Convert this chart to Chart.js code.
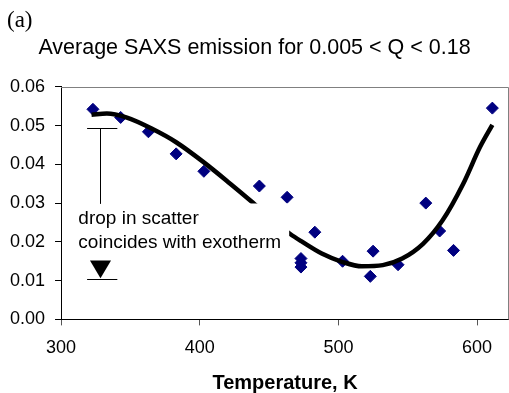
<!DOCTYPE html>
<html>
<head>
<meta charset="utf-8">
<script src="https://cdn.jsdelivr.net/npm/chart.js@4/dist/chart.umd.min.js"></script>
<style>
  html, body { margin: 0; padding: 0; background: #fff; }
  #wrap { width: 509px; height: 393px; }
</style>
</head>
<body>
<div id="wrap"><canvas id="saxsChart"></canvas></div>
<script>
// Measured points
const tempK = [323, 343, 363, 383, 403, 443, 463, 473, 473, 473, 483, 503, 523, 525, 543, 563, 573, 583, 611];
const saxs = [0.0542, 0.0521, 0.0484, 0.0427, 0.0382, 0.0344, 0.0315, 0.0157, 0.0146, 0.0135,
              0.0225, 0.0150, 0.0111, 0.0176, 0.0141, 0.0300, 0.0228, 0.0178, 0.0545];

// Trend curve
const fitTempK = [322, 333, 347, 366, 383, 403, 422, 438, 452, 465, 474, 488, 503, 517, 532, 546, 561, 575, 590, 602, 611];
const fitSaxs = [0.0528, 0.0531, 0.0521, 0.0491, 0.0457, 0.0405, 0.0350, 0.0302, 0.0258, 0.0221, 0.0200,
                 0.0170, 0.0148, 0.0137, 0.0140, 0.0157, 0.0195, 0.0255, 0.0350, 0.0444, 0.0502];

const xTicks = [300, 400, 500, 600];
const yTicks = [0, 0.01, 0.02, 0.03, 0.04, 0.05, 0.06];

const titleText = 'Average SAXS emission for 0.005 < Q < 0.18';
const panelLabel = '(a)';
const noteLines = ['drop in scatter', 'coincides with exotherm'];

const FONT = '"Liberation Sans", Arial, sans-serif';

// Annotation (text box with bracket and arrow), placed in data units
const annotationPlugin = {
    id: 'annotation',
    afterDatasetsDraw(chart) {
        const { ctx, chartArea, scales: { x, y } } = chart;
        ctx.save();

        // white text box hides the trend line behind it
        const bx0 = x.getPixelForValue(310), bx1 = x.getPixelForValue(464.5);
        const by0 = y.getPixelForValue(0.0299), by1 = y.getPixelForValue(0.0173);
        ctx.fillStyle = '#fff';
        ctx.fillRect(bx0, by0, bx1 - bx0, by1 - by0);

        ctx.fillStyle = '#000';
        ctx.font = '19px ' + FONT;
        ctx.textAlign = 'left';
        ctx.textBaseline = 'alphabetic';
        ctx.fillText(noteLines[0], x.getPixelForValue(312.5), y.getPixelForValue(0.0247));
        ctx.fillText(noteLines[1], x.getPixelForValue(312.5), y.getPixelForValue(0.0185));

        // bracket: cap, stem, arrow, base
        const cx = Math.round(x.getPixelForValue(328.3)) + 0.5;
        const capL = x.getPixelForValue(318.8), capR = x.getPixelForValue(340.6);
        ctx.strokeStyle = '#000';
        ctx.lineWidth = 1;
        ctx.beginPath();
        const yCap = Math.round(y.getPixelForValue(0.0493)) + 0.5;
        ctx.moveTo(capL, yCap); ctx.lineTo(capR, yCap);
        ctx.moveTo(cx, yCap); ctx.lineTo(cx, y.getPixelForValue(0.0298));
        const yBase = Math.round(y.getPixelForValue(0.0103)) + 0.5;
        ctx.moveTo(capL, yBase); ctx.lineTo(capR, yBase);
        ctx.stroke();

        const triTop = y.getPixelForValue(0.0152), triTip = y.getPixelForValue(0.0106);
        const half = x.getPixelForValue(328.3 + 7.6) - x.getPixelForValue(328.3);
        ctx.beginPath();
        ctx.moveTo(cx - half, triTop);
        ctx.lineTo(cx + half, triTop);
        ctx.lineTo(cx, triTip);
        ctx.closePath();
        ctx.fill();

        // plot area frame (top and right)
        ctx.strokeStyle = '#808080';
        ctx.beginPath();
        ctx.moveTo(chartArea.left, Math.round(chartArea.top) + 0.5);
        ctx.lineTo(chartArea.right - 0.5, Math.round(chartArea.top) + 0.5);
        ctx.lineTo(chartArea.right - 0.5, chartArea.bottom);
        ctx.stroke();

        ctx.restore();
    },
    afterDraw(chart) {
        const ctx = chart.ctx;
        ctx.save();
        ctx.fillStyle = '#000';
        ctx.font = '23px "Liberation Serif", "Times New Roman", serif';
        ctx.textAlign = 'left';
        ctx.textBaseline = 'alphabetic';
        ctx.fillText(panelLabel, 7, 27);
        ctx.restore();
    }
};

const ctx = document.getElementById('saxsChart');

new Chart(ctx, {
    type: 'scatter',
    data: {
        datasets: [
            {
                label: 'Trend',
                data: fitTempK.map((t, i) => ({ x: t, y: fitSaxs[i] })),
                showLine: true,
                borderColor: '#000',
                borderWidth: 4.5,
                pointRadius: 0,
                cubicInterpolationMode: 'monotone',
                fill: false,
                order: 0
            },
            {
                label: 'SAXS',
                data: tempK.map((t, i) => ({ x: t, y: saxs[i] })),
                pointStyle: 'rectRot',
                pointRadius: 6,
                backgroundColor: '#000080',
                borderColor: '#000080',
                borderWidth: 1,
                order: 1
            }
        ]
    },
    options: {
        responsive: true,
        maintainAspectRatio: false,
        animation: false,
        devicePixelRatio: 1,
        layout: {
            autoPadding: false,
            padding: { left: 0, right: 0, top: 0, bottom: 0 }
        },
        plugins: {
            legend: { display: false },
            tooltip: { enabled: false },
            title: {
                display: true,
                text: titleText,
                color: '#000',
                font: { family: FONT, size: 21.5, weight: 'normal' },
                padding: { top: 35, bottom: 26 }
            }
        },
        scales: {
            x: {
                type: 'linear',
                min: 300,
                max: 623,
                afterBuildTicks: (scale) => {
                    scale.ticks = xTicks.map(v => ({ value: v }));
                },
                ticks: {
                    color: '#000',
                    font: { family: FONT, size: 18 },
                    padding: 12,
                    maxRotation: 0
                },
                grid: {
                    drawOnChartArea: false,
                    drawTicks: true,
                    tickLength: 6,
                    color: '#555'
                },
                border: { display: true, color: '#000', width: 1 },
                title: {
                    display: true,
                    text: 'Temperature, K',
                    color: '#000',
                    font: { family: FONT, size: 20, weight: 'bold' },
                    padding: { top: 0, bottom: -2 }
                }
            },
            y: {
                type: 'linear',
                min: 0,
                max: 0.06,
                afterBuildTicks: (scale) => {
                    scale.ticks = yTicks.map(v => ({ value: v }));
                },
                ticks: {
                    color: '#000',
                    font: { family: FONT, size: 18 },
                    padding: 10,
                    callback: (v) => Number(v).toFixed(2)
                },
                grid: {
                    drawOnChartArea: false,
                    drawTicks: true,
                    tickLength: 6,
                    color: '#000'
                },
                border: { display: true, color: '#000', width: 1 }
            }
        }
    },
    plugins: [annotationPlugin]
});
</script>
</body>
</html>
